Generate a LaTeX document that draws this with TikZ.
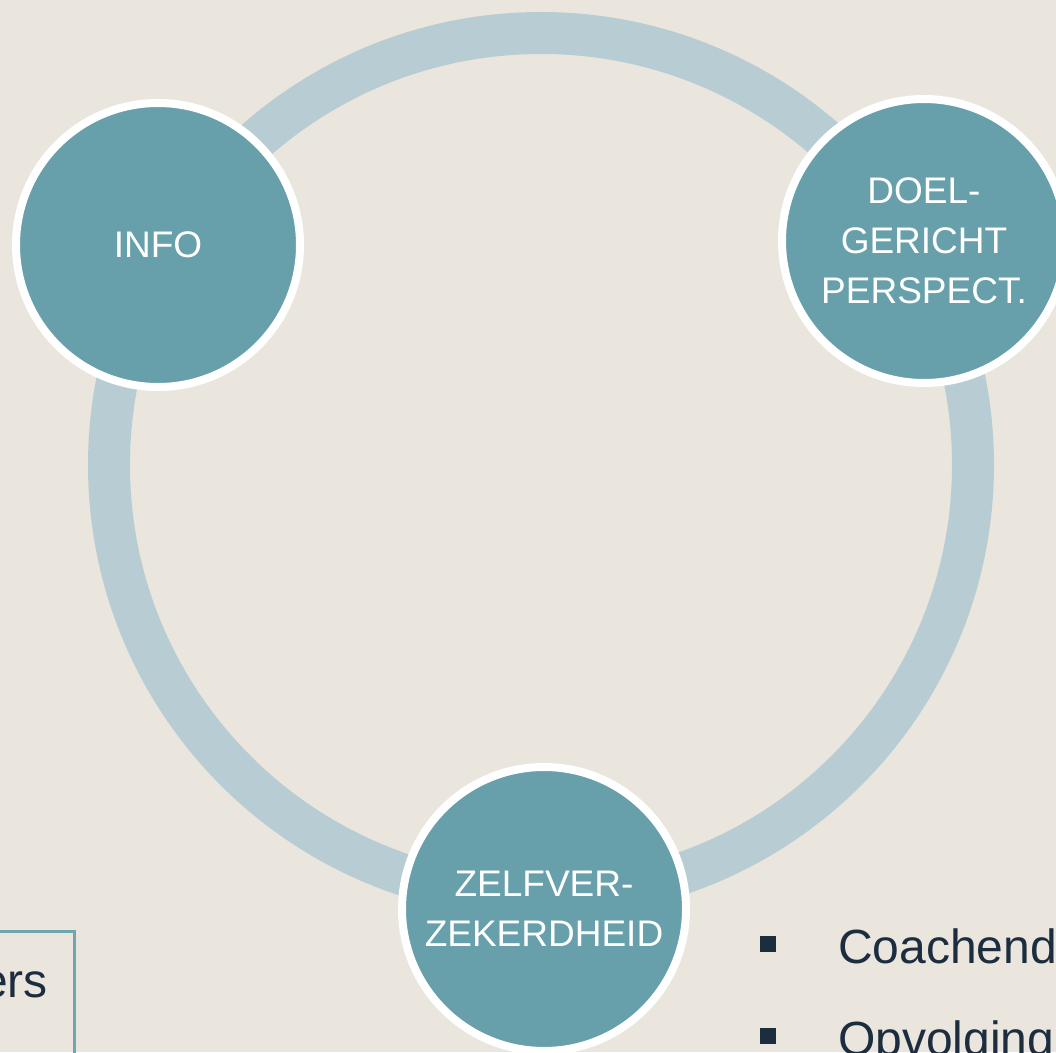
\documentclass[tikz,border=0pt]{standalone}
\usepackage{fontspec}
\setmainfont{Liberation Sans}
\definecolor{bgc}{RGB}{234,230,221}
\definecolor{ringc}{RGB}{184,205,211}
\definecolor{tealc}{RGB}{103,160,170}
\definecolor{darkc}{RGB}{27,45,63}
\definecolor{boxc}{RGB}{111,166,175}
\tikzset{
  bubble/.style={circle, fill=tealc, draw=white, line width=8pt, minimum size=284pt,
    inner sep=0pt, text=white, align=center, font=\fontsize{37}{50}\selectfont},
  ringline/.style={draw=ringc, line width=42pt},
  sqbullet/.style={rectangle, fill=darkc, minimum size=16pt, inner sep=0pt},
  bodytext/.style={text=darkc, inner sep=0pt, font=\fontsize{48}{58}\selectfont},
  framebox/.style={draw=boxc, line width=3pt, rectangle, inner sep=0pt}
}
\begin{document}
\begin{tikzpicture}[x=1pt,y=-1pt]
\useasboundingbox (0,0) rectangle (1056,1052);
\fill[bgc] (0,0) rectangle (1056,1052);
\clip (0,0) rectangle (1056,1052);
\coordinate (c) at (541,465);
\draw[ringline] (c) circle [radius=432pt];
\node[bubble] (info) at (158,245) {INFO};
\node[bubble] (doel) at (924,241) {DOEL-\\GERICHT\\PERSPECT.};
\node[bubble] (zelf) at (544,909) {ZELFVER-\\ZEKERDHEID};
% bottom-left box
\node[framebox, minimum width=100pt, minimum height=140pt, anchor=north east] (box) at (76,930) {};
\node[bodytext, anchor=base east] (ers) at (48,997) {ers};
% bullets
\node[sqbullet] (b1) at (768,944) {};
\node[bodytext, anchor=base west] (t1) at (838,963) {Coachend};
\node[sqbullet] (b2) at (768,1036) {};
\node[bodytext, anchor=base west] (t2) at (838,1055) {Opvolging};
\end{tikzpicture}
\end{document}
